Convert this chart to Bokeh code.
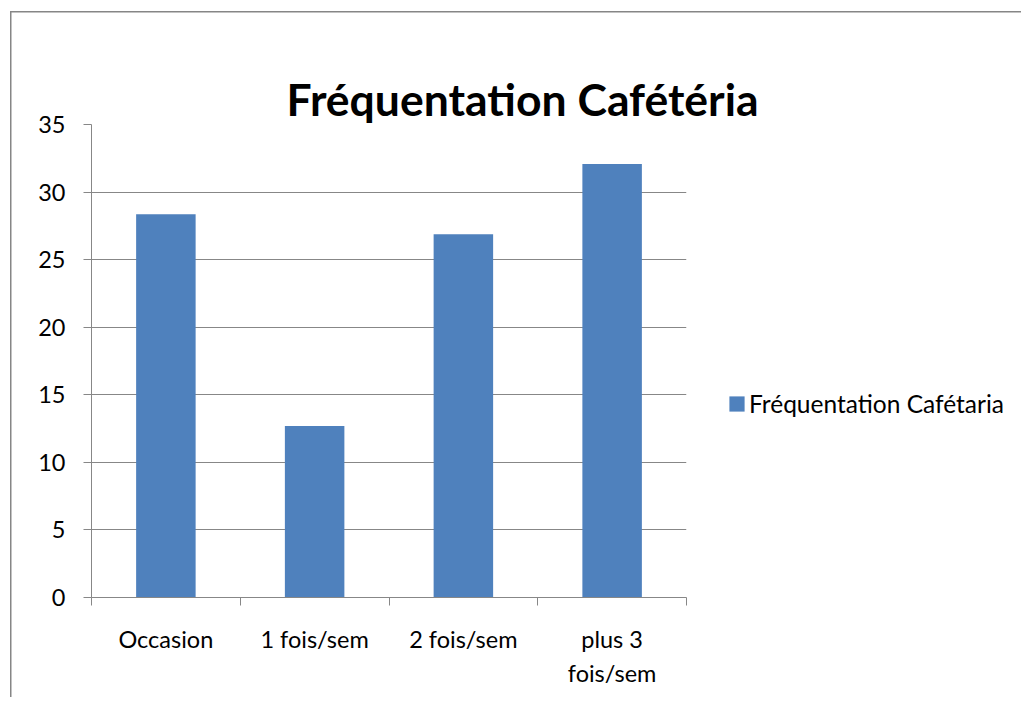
from bokeh.plotting import figure
from bokeh.models import (FactorRange, Range1d, LinearAxis, CategoricalAxis, FixedTicker,
                          ColumnDataSource, Legend, CustomJSTickFormatter, Title)
from bokeh.embed import file_html
from bokeh.resources import INLINE

# ---- data ----
categories = ["Occasion", "1 fois/sem", "2 fois/sem", "plus 3 fois/sem"]
values = [28.36, 12.69, 26.87, 32.08]
series_name = "Fréquentation Cafétaria"
title_text = "Fréquentation Cafétéria"
label_line1 = {"Occasion": "Occasion", "1 fois/sem": "1 fois/sem",
               "2 fois/sem": "2 fois/sem", "plus 3 fois/sem": "plus 3"}
label_line2 = {"Occasion": "", "1 fois/sem": "", "2 fois/sem": "",
               "plus 3 fois/sem": "fois/sem"}
y_ticks = [0, 5, 10, 15, 20, 25, 30, 35]
boundary_ticks = [0, 1, 2, 3, 4]

FONT = "Lato"
GRAY = "#878787"
BAR = "#4F81BD"

src = ColumnDataSource(dict(cat=categories, val=values))

p = figure(x_range=FactorRange(*categories), y_range=Range1d(0, 35),
           width=1005, height=697, frame_width=595, frame_height=473,
           output_backend="svg", toolbar_location=None, title=None,
           min_border_left=91, min_border_right=319, min_border_top=124, min_border_bottom=100,
           x_axis_location=None, y_axis_location=None,
           styles={"background-image": "linear-gradient(#868686,#868686), linear-gradient(#868686,#868686)",
                   "background-size": "1.5px 100%, 100% 1.5px",
                   "background-position": "10px 11px, 10px 11px",
                   "background-repeat": "no-repeat",
                   "background-color": "white"})
p.border_fill_color = None
p.background_fill_color = "white"

r = p.vbar(x="cat", top="val", width=0.4, source=src, fill_color=BAR, line_color=None)

# y axis
yax = LinearAxis(ticker=FixedTicker(ticks=y_ticks))
yax.axis_line_color = GRAY
yax.major_tick_line_color = GRAY
yax.major_tick_out = 8
yax.major_tick_in = 0
yax.minor_tick_line_color = None
yax.major_label_standoff = 18
yax.major_label_text_font = FONT
yax.major_label_text_font_size = "23.5px"
yax.major_label_text_color = "#000000"
p.add_layout(yax, "left")

# x tick-only axis (ticks at category boundaries)
tax = LinearAxis(ticker=FixedTicker(ticks=boundary_ticks, minor_ticks=[]))
tax.axis_line_color = GRAY
tax.major_tick_line_color = GRAY
tax.major_tick_out = 8
tax.major_tick_in = 0
tax.minor_tick_line_color = None
tax.formatter = CustomJSTickFormatter(code="return ''")
tax.major_label_text_font_size = "1px"
tax.major_label_standoff = 0
p.add_layout(tax, "below")

JS = """
const v = (m instanceof Map) ? m.get(tick) : m[tick];
return (v === undefined || v === null) ? tick : v;
"""

def cat_axis(mapping, standoff):
    ax = CategoricalAxis()
    ax.axis_line_color = None
    ax.major_tick_line_color = None
    ax.major_tick_out = 0
    ax.major_tick_in = 0
    ax.major_label_standoff = standoff
    ax.major_label_text_font = FONT
    ax.major_label_text_font_size = "23.5px"
    ax.major_label_text_color = "#000000"
    ax.formatter = CustomJSTickFormatter(args=dict(m=mapping), code=JS)
    return ax

p.add_layout(cat_axis(label_line1, 19), "below")
p.add_layout(cat_axis(label_line2, 3), "below")

p.xgrid.grid_line_color = None
p.ygrid.ticker = FixedTicker(ticks=y_ticks)
p.ygrid.grid_line_color = GRAY
p.ygrid.grid_line_width = 1
p.outline_line_color = None

# title (outermost above panel), then an invisible gap nearest the frame
ttl = Title(text=title_text, align="left", offset=195, text_font=FONT,
            text_font_style="bold", text_font_size="44.5px", text_color="#000000",
            standoff=0)
p.add_layout(ttl, "above")

gap = LinearAxis(ticker=FixedTicker(ticks=[0], minor_ticks=[]))
gap.axis_line_color = None
gap.major_tick_line_color = "white"
gap.minor_tick_line_color = None
gap.major_tick_out = 42
gap.major_tick_in = 0
gap.formatter = CustomJSTickFormatter(code="return ''")
gap.major_label_text_font_size = "1px"
gap.major_label_standoff = 0
p.add_layout(gap, "above")

# legend
lg = Legend(items=[(series_name, [r])], location=(41, 179))
lg.padding = 0
lg.margin = 0
lg.border_line_color = None
lg.background_fill_alpha = 0
lg.glyph_width = 19
lg.glyph_height = 19
lg.label_standoff = 3
lg.label_text_font = FONT
lg.label_text_font_size = "24.5px"
lg.label_text_color = "#000000"
p.add_layout(lg, "right")

open("out.html", "w").write(file_html(p, INLINE))
